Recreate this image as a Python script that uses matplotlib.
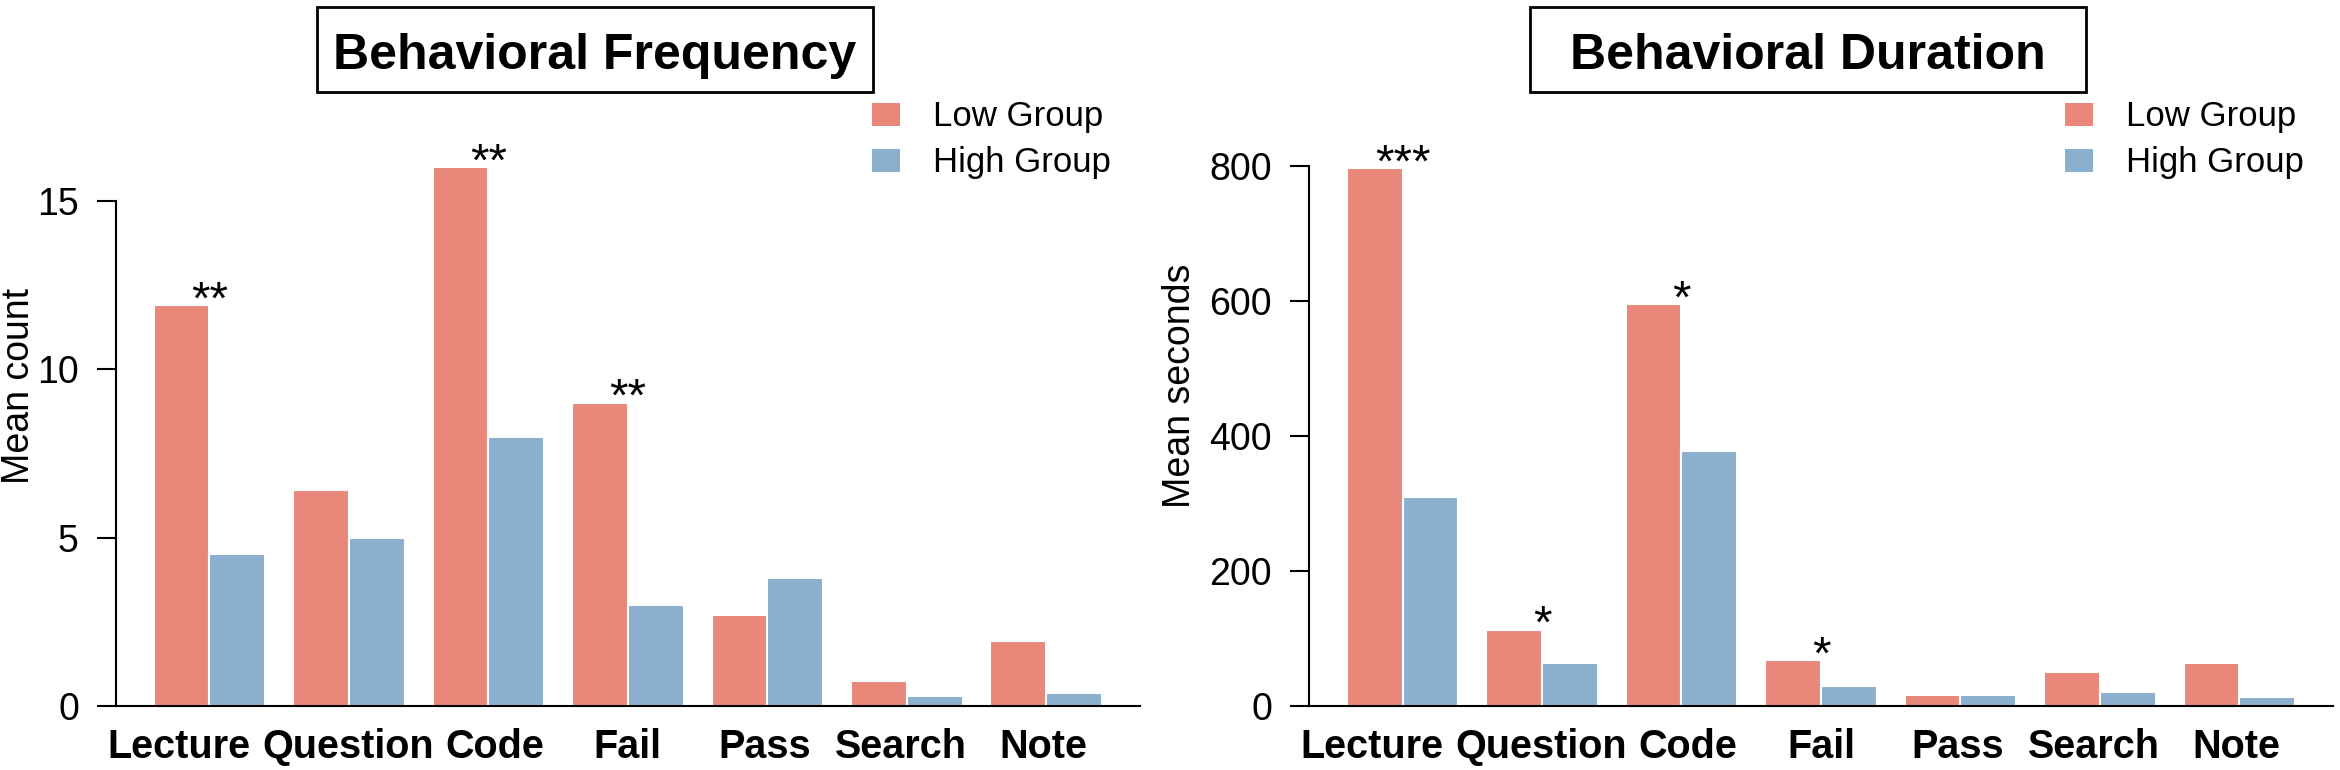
import matplotlib.pyplot as plt
from matplotlib.patches import Rectangle
from matplotlib.transforms import blended_transform_factory
import numpy as np

plt.rcParams['font.family'] = ['Liberation Sans', 'DejaVu Sans']

categories = ['Lecture', 'Question', 'Code', 'Fail', 'Pass', 'Search', 'Note']
groups = ['Low Group', 'High Group']

# mean count per behaviour
freq_low = [11.9, 6.4, 16.0, 9.0, 2.7, 0.75, 1.92]
freq_high = [4.5, 5.0, 8.0, 3.0, 3.8, 0.3, 0.4]
freq_sig = ['**', '', '**', '**', '', '', '']
freq_ticks = [0, 5, 10, 15]

# mean seconds per behaviour
dur_low = [797, 113, 595, 68, 16, 50, 63]
dur_high = [309, 63, 377, 29, 17, 20, 14]
dur_sig = ['***', '*', '*', '*', '', '', '']
dur_ticks = [0, 200, 400, 600, 800]

LOW_COLOR = '#E9877A'
HIGH_COLOR = '#8AAFCF'

W, H = 2340, 770
fig = plt.figure(figsize=(W / 100, H / 100), dpi=100)


def fx(x):
    return x / W


def fy(y):
    return 1 - y / H


# small nudges for the category labels (Lecture sits left of its group)
label_nudge = [-0.55, -0.02, 0.12, 0, -0.05, -0.1, -0.05]


def panel(left_px, low, high, sig, ticks, ymax, ylabel, ylabel_x,
          title, box_x, legend_x):
    ax = fig.add_axes([fx(left_px), fy(706), 1024.3 / W, 640 / H])
    x = np.arange(len(categories)) * 2.5
    ax.bar(x + 1.0, low, width=1.0, color=LOW_COLOR, edgecolor='white', linewidth=1.5)
    ax.bar(x + 2.0, high, width=1.0, color=HIGH_COLOR, edgecolor='white', linewidth=1.5)
    ax.set_xlim(-0.18, 18.18)
    ax.set_ylim(0, ymax)

    for s in ['top', 'right']:
        ax.spines[s].set_visible(False)
    ax.spines['left'].set_bounds(ticks[0], ticks[-1])
    ax.spines['left'].set_linewidth(1.5)
    ax.spines['bottom'].set_linewidth(1.5)

    ax.set_xticks([])
    ax.set_yticks(ticks)
    ax.tick_params(axis='y', length=13.5, width=1.5, pad=13, labelsize=27)

    # significance stars
    for i, s in enumerate(sig):
        if s:
            ax.annotate(s, xy=(x[i] + 1.5, low[i]), xytext=(0, -6),
                        textcoords='offset points', ha='center', va='baseline',
                        fontsize=34)

    # category labels under the groups
    tr = blended_transform_factory(ax.transData, ax.transAxes)
    for i, c in enumerate(categories):
        ax.text(x[i] + 1.5 + label_nudge[i], -52 / 640, c, transform=tr,
                ha='center', va='baseline', fontsize=28.5, fontweight='bold')

    fig.text(fx(ylabel_x), fy(386), ylabel, rotation=90, ha='center',
             va='center', fontsize=27)

    # boxed title
    fig.patches.append(Rectangle((fx(box_x), fy(92)), 556 / W, 85 / H,
                                 transform=fig.transFigure, fill=False,
                                 edgecolor='black', linewidth=2))
    fig.text(fx(box_x + 278), fy(69), title, ha='center', va='baseline',
             fontsize=36, fontweight='bold')

    # legend
    for j, (g, col) in enumerate(zip(groups, [LOW_COLOR, HIGH_COLOR])):
        top = 103 + 46 * j
        fig.patches.append(Rectangle((fx(legend_x), fy(top + 23)), 28 / W, 23 / H,
                                     transform=fig.transFigure,
                                     facecolor=col, edgecolor='none'))
        fig.text(fx(legend_x + 61), fy(top + 23), g, ha='left', va='baseline',
                 fontsize=25)
    return ax


panel(115.7, freq_low, freq_high, freq_sig, freq_ticks, 19.0, 'Mean count', 19,
      'Behavioral Frequency', 317, 872)
panel(1308.8, dur_low, dur_high, dur_sig, dur_ticks, 948, 'Mean seconds', 1180,
      'Behavioral Duration', 1530, 2065)

fig.savefig('out.png', dpi=100)
